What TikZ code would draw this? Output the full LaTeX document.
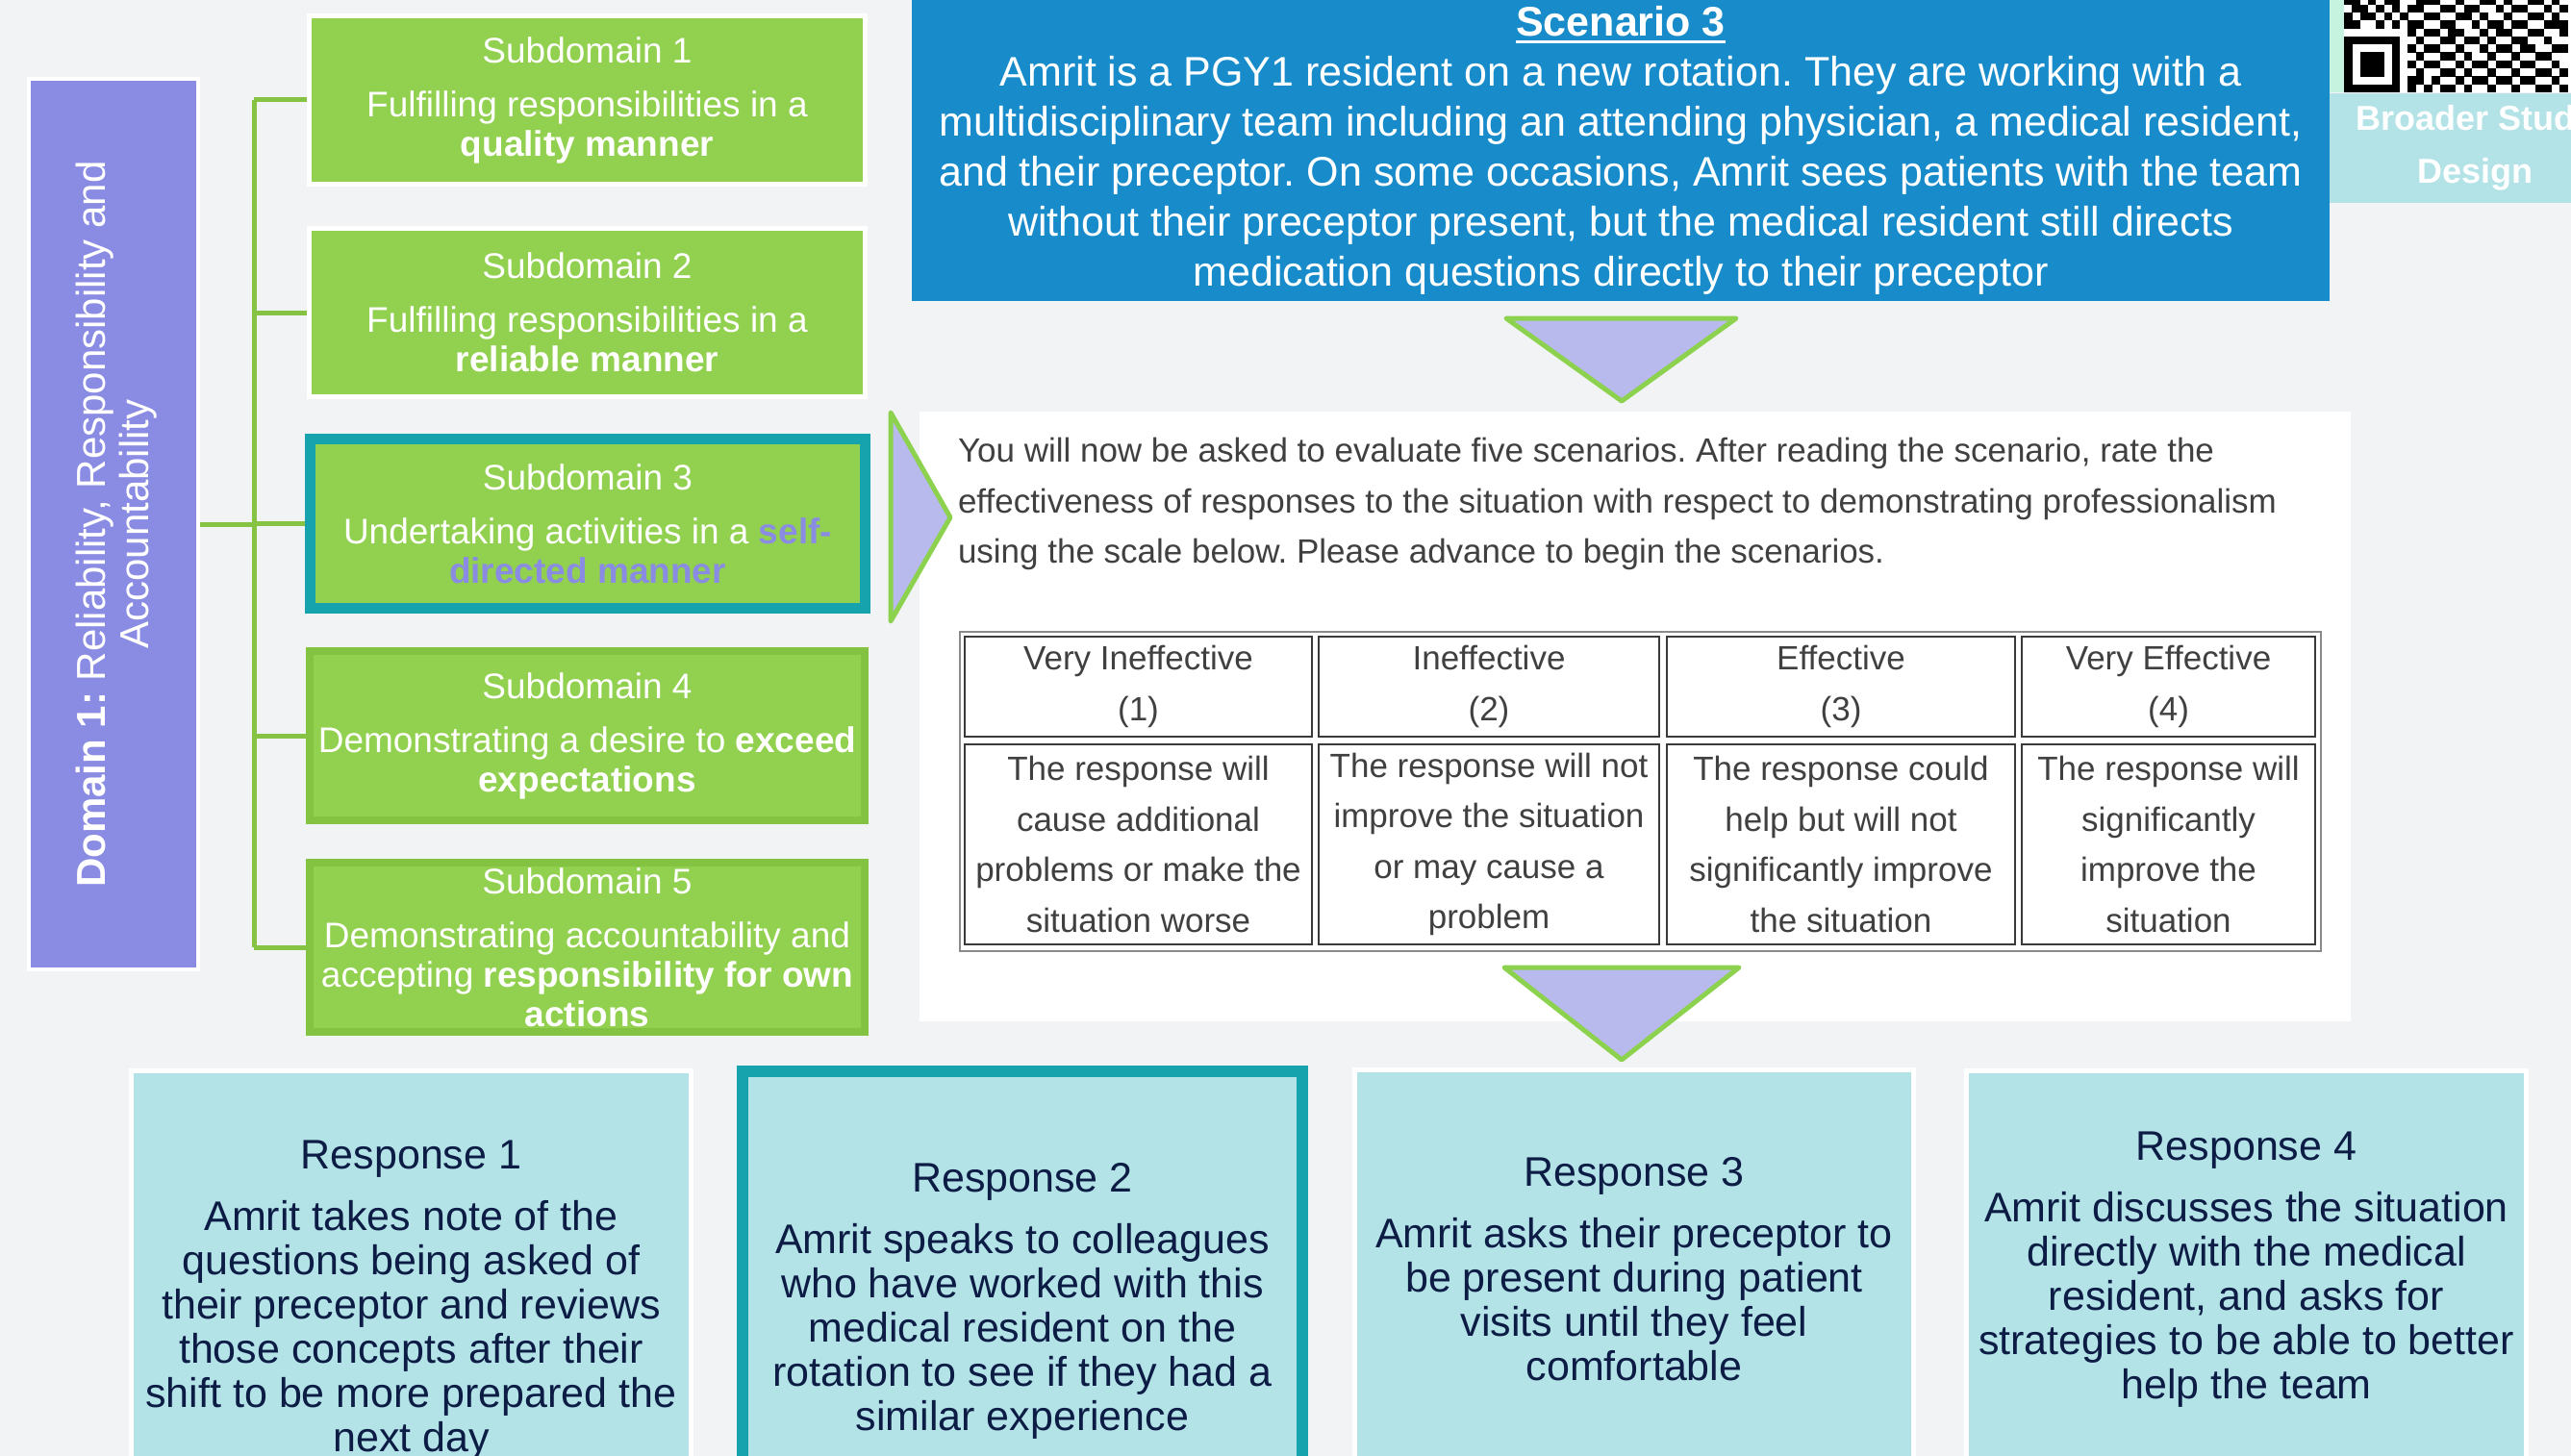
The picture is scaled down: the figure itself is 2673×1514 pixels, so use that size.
\documentclass[tikz,border=0pt]{standalone}
\usepackage{fontspec}
\setmainfont{Liberation Sans}
\usetikzlibrary{calc}
\frenchspacing
\definecolor{bgc}{HTML}{F2F3F5}
\definecolor{dompurple}{HTML}{8A8CE3}
\definecolor{sdgreen}{HTML}{92D050}
\definecolor{sdborder}{HTML}{84C341}
\definecolor{tealc}{HTML}{17A3AD}
\definecolor{scenblue}{HTML}{188CCB}
\definecolor{respcyan}{HTML}{B3E3E7}
\definecolor{lav}{HTML}{B8B9EC}
\definecolor{trigreen}{HTML}{8DD24F}
\definecolor{conngreen}{HTML}{86C343}
\definecolor{mint}{HTML}{C5F3DF}
\definecolor{navy}{HTML}{0C1C45}
\definecolor{instrgray}{HTML}{404040}
\definecolor{tabgray}{HTML}{8A8A8A}
\definecolor{cellgray}{HTML}{3A3A3A}
\definecolor{selfpurple}{HTML}{8A8CE3}
\pgfdeclarelayer{back}
\pgfdeclarelayer{conn}
\pgfsetlayers{back,conn,main}
\newcommand\myul[1]{\setbox0\hbox{#1}\rlap{\rule[-7.5pt]{\wd0}{3pt}}\box0}
\tikzset{
  plain/.style={rectangle, inner sep=0pt, outer sep=0pt},
  dombox/.style={plain, fill=dompurple, draw=white, line width=4pt},
  domtext/.style={plain, text=white, align=center, font=\fontsize{42}{45}\selectfont},
  sdbase/.style={plain, fill=sdgreen, align=center, text=white, font=\fontsize{37}{41}\selectfont},
  sdwhite/.style={sdbase, draw=white, line width=5pt, minimum width=578pt, minimum height=175pt},
  sdteal/.style={sdbase, draw=tealc, line width=11pt, minimum width=577pt, minimum height=176pt},
  sddark/.style={sdbase, draw=sdborder, line width=8pt, minimum width=577pt, minimum height=176pt},
  connline/.style={draw=conngreen, line width=5pt},
  scenbox/.style={plain, fill=scenblue, text=white, align=center, font=\fontsize{43}{52}\selectfont},
  broadbox/.style={plain, fill=respcyan, text=white, align=center, font=\fontsize{36}{55}\selectfont\bfseries},
  instrbox/.style={plain, fill=white},
  instrtext/.style={plain, text=instrgray, align=left, font=\fontsize{35}{52.5}\selectfont},
  tabouter/.style={plain, draw=tabgray, line width=2pt},
  cell/.style={plain, draw=cellgray, line width=2pt, text=instrgray, align=center, font=\fontsize{35}{52.5}\selectfont},
  tri/.style={fill=lav, draw=trigreen, line width=5pt, line join=round},
  respbase/.style={plain, fill=respcyan, text=navy, align=center, font=\fontsize{43}{46}\selectfont},
  respwhite/.style={respbase, draw=white, line width=5pt},
  respteal/.style={respbase, draw=tealc, line width=12pt}
}
\begin{document}
\begin{tikzpicture}[x=1pt,y=-1pt]
\useasboundingbox (0,0) rectangle (2673,1514);
\clip (0,0) rectangle (2673,1514);
\begin{pgfonlayer}{back}
\fill[bgc] (0,0) rectangle (2673,1514);
\end{pgfonlayer}

% Domain
\node[dombox, minimum width=176pt, minimum height=926pt] (dom) at (118,545) {};
\node[domtext, rotate=90] (domlabel) at (121,545) {\textbf{Domain 1:} Reliability, Responsibility and\\Accountability};

% Subdomains
\node[sdwhite] (sd1) at (610.5,104) {Subdomain 1\\[15pt]Fulfilling responsibilities in a\\\textbf{quality manner}};
\node[sdwhite] (sd2) at (610.5,325) {Subdomain 2\\[15pt]Fulfilling responsibilities in a\\\textbf{reliable manner}};
\node[sdteal] (sd3) at (611,544.5) {Subdomain 3\\[15pt]Undertaking activities in a \textcolor{selfpurple}{\textbf{self-}}\\\textcolor{selfpurple}{\textbf{directed manner}}};
\node[sddark] (sd4) at (610.5,765) {Subdomain 4\\[15pt]Demonstrating a desire to \textbf{exceed}\\\textbf{expectations}};
\node[sddark] (sd5) at (610.5,985) {Subdomain 5\\[15pt]Demonstrating accountability and\\accepting \textbf{responsibility for own}\\\textbf{actions}};

% Connectors
\coordinate (trunk) at (264,0);
\begin{pgfonlayer}{conn}
\draw[connline] (dom.east) -- (dom.east -| trunk);
\draw[connline] (sd1.west -| trunk) -- (sd5.west -| trunk);
\foreach \s in {sd1,sd2,sd3,sd4,sd5} {\draw[connline] (\s.west -| trunk) -- (\s.west);}
\end{pgfonlayer}

% Scenario
\node[scenbox, minimum width=1474pt, minimum height=314pt] (scen) at (1685,156) {\myul{\textbf{Scenario 3}}\\Amrit is a PGY1 resident on a new rotation. They are working with a\\multidisciplinary team including an attending physician, a medical resident,\\and their preceptor. On some occasions, Amrit sees patients with the team\\without their preceptor present, but the medical resident still directs\\medication questions directly to their preceptor};

% QR area
\fill[mint] (2422,0) rectangle (2673,96);
\fill[white] (2437,0) rectangle (2673,96);
\foreach \r/\cl in {
 0/{0,1,3,5,6,9,10,11,14,17,18,20,23,24,26},
 1/{1,2,4,6,8,9,12,13,15,16,19,21,22,25,27},
 2/{0,2,3,5,7,10,11,14,15,17,20,23,24,26},
 3/{0,1,4,6,8,9,12,13,16,18,19,21,22,25,26,27},
 4/{8,10,11,13,14,17,19,20,23,24,27},
 5/{0,1,2,3,4,5,6,9,12,13,15,16,18,21,22,25},
 6/{0,6,8,10,11,14,17,19,20,22,23,26,27},
 7/{0,2,3,4,6,9,12,13,15,18,21,24,25},
 8/{0,2,3,4,6,8,10,11,14,16,17,19,20,22,23,26},
 9/{0,2,3,4,6,9,12,13,15,18,21,24,25,27},
 10/{0,6,8,9,11,14,16,17,19,20,22,23,26},
 11/{0,1,2,3,4,5,6,8,10,12,13,15,18,21,24,25,27}}{
  \foreach \c in \cl {\fill[black] (2437+\c*8.3, 96-12*8.3+\r*8.3) rectangle ++(8.5,8.5);}
}
\node[broadbox, minimum width=302pt, minimum height=114pt] (broad) at (2573,154) {Broader Study\\Design};

% Instructions
\node[instrbox, minimum width=1488pt, minimum height=634pt] (instr) at (1700,745) {};
\node[instrtext, anchor=west] (instrtxt) at (996,524) {You will now be asked to evaluate five scenarios. After reading the scenario, rate the\\effectiveness of responses to the situation with respect to demonstrating professionalism\\using the scale below. Please advance to begin the scenarios.};

% Table
\node[tabouter, minimum width=1415pt, minimum height=332pt] (tab) at (1705.5,823) {};
\node[cell, minimum width=361pt, minimum height=104pt] (h1) at (1183.5,714) {Very Ineffective\\(1)};
\node[cell, minimum width=354pt, minimum height=104pt] (h2) at (1548,714) {Ineffective\\(2)};
\node[cell, minimum width=362pt, minimum height=104pt] (h3) at (1914,714) {Effective\\(3)};
\node[cell, minimum width=305pt, minimum height=104pt] (h4) at (2254.5,714) {Very Effective\\(4)};
\node[cell, minimum width=361pt, minimum height=208pt] (b1) at (1183.5,878) {The response will\\cause additional\\problems or make the\\situation worse};
\node[cell, minimum width=354pt, minimum height=208pt] (b2) at (1548,878) {The response will not\\improve the situation\\or may cause a\\problem};
\node[cell, minimum width=362pt, minimum height=208pt] (b3) at (1914,878) {The response could\\help but will not\\significantly improve\\the situation};
\node[cell, minimum width=305pt, minimum height=208pt] (b4) at (2254.5,878) {The response will\\significantly\\improve the\\situation};

% Triangles
\draw[tri] (1566,331) -- (1805,331) -- (1686,417) -- cycle;
\draw[tri] (926,429) -- (926,646) -- (988,538) -- cycle;
\draw[tri] (1564,1006) -- (1808,1006) -- (1686,1102) -- cycle;

% Responses
\node[respwhite, minimum width=582pt, minimum height=477pt] (r1) at (427.5,1352) {Response 1\\[18pt]Amrit takes note of the\\questions being asked of\\their preceptor and reviews\\those concepts after their\\shift to be more prepared the\\next day};
\node[respteal, minimum width=582pt, minimum height=478pt] (r2) at (1063,1353) {Response 2\\[18pt]Amrit speaks to colleagues\\who have worked with this\\medical resident on the\\rotation to see if they had a\\similar experience};
\node[respwhite, minimum width=581pt, minimum height=415pt] (r3) at (1699,1320) {Response 3\\[18pt]Amrit asks their preceptor to\\be present during patient\\visits until they feel\\comfortable};
\node[respwhite, minimum width=582pt, minimum height=414pt] (r4) at (2335.5,1320) {Response 4\\[18pt]Amrit discusses the situation\\directly with the medical\\resident, and asks for\\strategies to be able to better\\help the team};
\end{tikzpicture}
\end{document}
